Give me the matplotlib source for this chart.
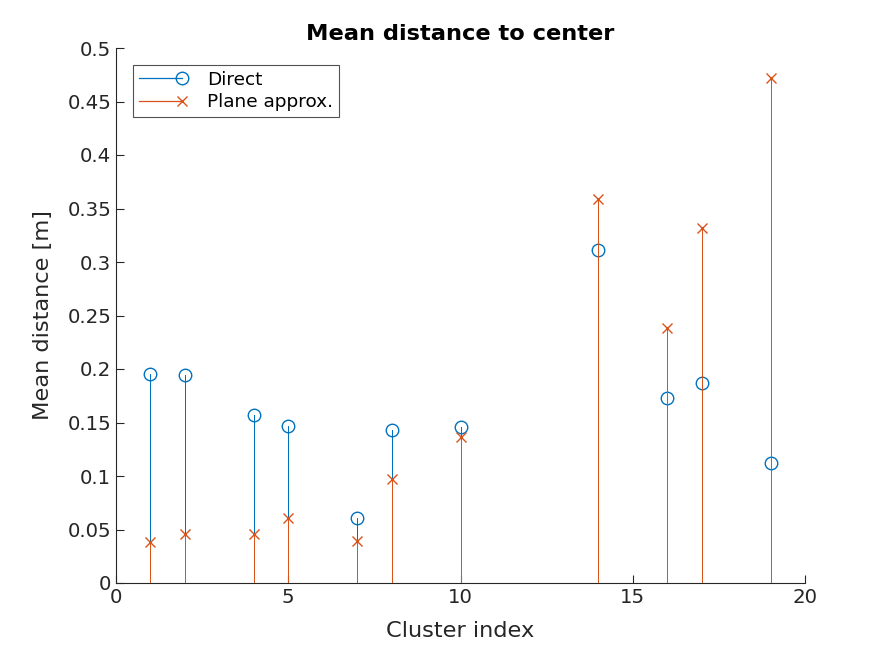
import matplotlib
matplotlib.use("Agg")
import matplotlib.pyplot as plt
from matplotlib.lines import Line2D
from matplotlib.legend_handler import HandlerLine2D

clusters = [1, 2, 4, 5, 7, 8, 10, 14, 16, 17, 19]
direct = [0.195, 0.194, 0.157, 0.147, 0.061, 0.143, 0.146, 0.311, 0.173, 0.187, 0.112]
plane = [0.038, 0.046, 0.046, 0.061, 0.039, 0.097, 0.136, 0.359, 0.238, 0.332, 0.472]

blue = "#0072BD"
orange = "#D95319"
txt = "#262626"

plt.rcParams['font.family'] = ['DejaVu Sans']
fig = plt.figure(figsize=(8.91, 6.56), dpi=100)
ax = fig.add_axes([116/891, 73/656, (805-116)/891, (583-48)/656])

ml, sl, bl = ax.stem(clusters, direct, linefmt='-', markerfmt='o', basefmt=' ', label='Direct')
plt.setp(sl, color=blue, linewidth=0.72, antialiased=False, zorder=2)
plt.setp(ml, markerfacecolor='none', markeredgecolor=blue, markersize=9, markeredgewidth=1.0, zorder=3)
ml2, sl2, bl2 = ax.stem(clusters, plane, linefmt='-', markerfmt='x', basefmt=' ', label='Plane approx.')
plt.setp(sl2, color=orange, linewidth=0.72, antialiased=False, zorder=4)
plt.setp(ml2, color=orange, markersize=7, markeredgewidth=1.0, zorder=5)

ax.set_xlim(0, 20)
ax.set_ylim(0, 0.5)
ax.set_xticks([0, 5, 10, 15, 20])
ax.set_yticks([0, 0.05, 0.1, 0.15, 0.2, 0.25, 0.3, 0.35, 0.4, 0.45, 0.5])
ax.set_yticklabels(['0', '0.05', '0.1', '0.15', '0.2', '0.25', '0.3', '0.35', '0.4', '0.45', '0.5'])
ax.spines['top'].set_visible(False)
ax.spines['right'].set_visible(False)
for s in ['left', 'bottom']:
    ax.spines[s].set_color(txt)
    ax.spines[s].set_linewidth(0.8)
ax.tick_params(direction='in', length=6, width=0.8, colors=txt, labelsize=14.2)
ax.set_xlabel('Cluster index', fontsize=16.2, color=txt, labelpad=10)
ax.set_ylabel('Mean distance [m]', fontsize=16.2, color=txt, labelpad=10)
ax.set_title('Mean distance to center', fontsize=16.2, fontweight='bold', color='black')


class EndMarkerHandler(HandlerLine2D):
    def create_artists(self, legend, orig_handle, xdescent, ydescent, width, height, fontsize, trans):
        y = (height - ydescent) / 2
        x0 = -xdescent
        x1 = -xdescent + width
        line = Line2D([x0, x1], [y, y])
        self.update_prop(line, orig_handle, legend)
        line.set_marker('None')
        mk = Line2D([x1], [y])
        self.update_prop(mk, orig_handle, legend)
        mk.set_linestyle('None')
        line.set_transform(trans)
        mk.set_transform(trans)
        return [line, mk]


h = [Line2D([0], [0], color=blue, lw=0.9, marker='o', markerfacecolor='none', markersize=9),
     Line2D([0], [0], color=orange, lw=0.9, marker='x', markersize=7)]
leg = ax.legend(h, ['Direct', 'Plane approx.'], loc='upper left', bbox_to_anchor=(0.0247, 0.968),
                fontsize=13.3, frameon=True, fancybox=False, handlelength=2.33, borderpad=0.3,
                labelspacing=0.25, handletextpad=1.4, borderaxespad=0, numpoints=1,
                handler_map={Line2D: EndMarkerHandler()})
leg.get_frame().set_edgecolor(txt)
leg.get_frame().set_linewidth(0.8)

fig.savefig('out.png', dpi=100)
